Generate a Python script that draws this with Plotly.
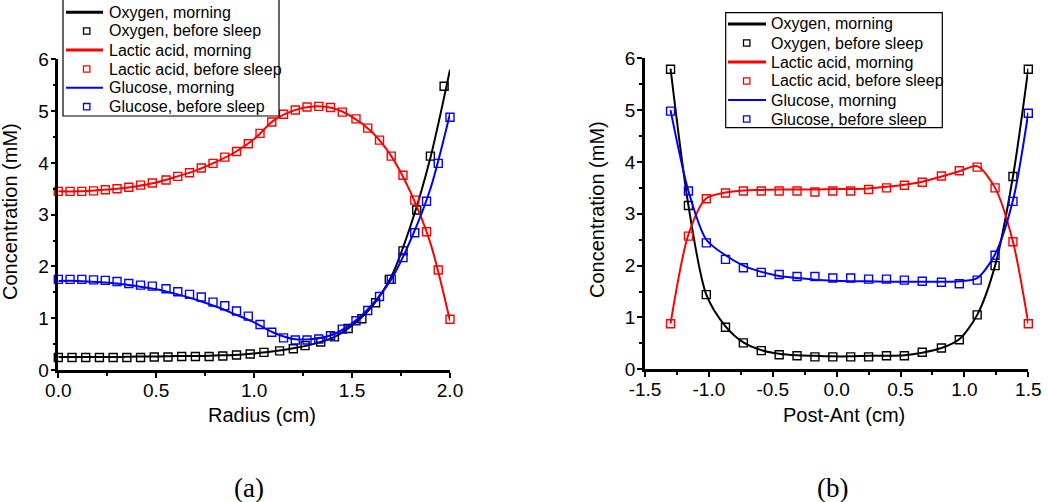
import plotly.graph_objects as go

# ---------- Panel (a): Radius ----------
# before-sleep markers (lactic acid & glucose share x)
a_x_lg = [0.0, 0.06, 0.12, 0.18, 0.24, 0.30, 0.36, 0.42, 0.48, 0.55, 0.61, 0.67, 0.73, 0.79,
          0.85, 0.91, 0.97, 1.03, 1.09, 1.15, 1.21, 1.27, 1.33, 1.39, 1.45, 1.52, 1.58, 1.64,
          1.70, 1.76, 1.82, 1.88, 1.94, 2.0]
a_lactic_bs = [3.45, 3.45, 3.45, 3.46, 3.48, 3.50, 3.53, 3.57, 3.61, 3.67, 3.74, 3.81, 3.90, 3.99,
               4.11, 4.22, 4.37, 4.57, 4.79, 4.94, 5.02, 5.08, 5.09, 5.07, 4.98, 4.85, 4.67, 4.44,
               4.13, 3.76, 3.28, 2.67, 1.93, 0.98]
a_glucose_bs = [1.75, 1.75, 1.75, 1.74, 1.73, 1.71, 1.67, 1.64, 1.62, 1.57, 1.51, 1.46, 1.41, 1.31,
                1.24, 1.14, 1.04, 0.88, 0.73, 0.62, 0.58, 0.58, 0.60, 0.66, 0.79, 0.95, 1.15, 1.42,
                1.75, 2.17, 2.65, 3.26, 3.99, 4.88]
a_x_ox = [0.0, 0.07, 0.14, 0.21, 0.28, 0.35, 0.42, 0.49, 0.56, 0.63, 0.70, 0.77, 0.84, 0.91,
          0.98, 1.05, 1.13, 1.20, 1.26, 1.34, 1.41, 1.48, 1.55, 1.62, 1.69, 1.76, 1.83, 1.90, 1.97]
a_oxygen_bs = [0.24, 0.24, 0.24, 0.24, 0.24, 0.24, 0.24, 0.25, 0.25, 0.26, 0.26, 0.26, 0.27, 0.29,
               0.31, 0.34, 0.37, 0.41, 0.47, 0.54, 0.64, 0.80, 0.99, 1.30, 1.75, 2.30, 3.09, 4.13, 5.48]
# morning curves
a_x_line = [0.0, 0.1, 0.2, 0.3, 0.4, 0.5, 0.6, 0.7, 0.8, 0.9, 1.0, 1.1, 1.2, 1.3, 1.4, 1.5,
            1.6, 1.7, 1.8, 1.9, 2.0]
a_oxygen_m = [0.25, 0.25, 0.25, 0.25, 0.26, 0.26, 0.27, 0.27, 0.28, 0.29, 0.32, 0.36, 0.42, 0.50,
              0.62, 0.86, 1.22, 1.80, 2.80, 4.10, 5.80]
a_lactic_m = [3.45, 3.45, 3.47, 3.50, 3.55, 3.62, 3.73, 3.85, 4.01, 4.20, 4.46, 4.82, 5.01, 5.09,
              5.06, 4.89, 4.60, 4.13, 3.42, 2.45, 0.95]
a_glucose_m = [1.72, 1.72, 1.70, 1.67, 1.62, 1.56, 1.47, 1.36, 1.23, 1.08, 0.92, 0.72, 0.60, 0.60,
               0.68, 0.90, 1.25, 1.75, 2.52, 3.50, 4.95]
a_xticks = [0.0, 0.5, 1.0, 1.5, 2.0]
a_xticktext = ["0.0", "0.5", "1.0", "1.5", "2.0"]

# ---------- Panel (b): Post-Ant ----------
b_x = [-1.3, -1.16, -1.02, -0.87, -0.73, -0.59, -0.45, -0.31, -0.17, -0.03, 0.11, 0.25, 0.39,
       0.53, 0.67, 0.82, 0.96, 1.10, 1.24, 1.38, 1.5]
b_oxygen_bs = [5.79, 3.16, 1.44, 0.81, 0.51, 0.36, 0.28, 0.26, 0.24, 0.24, 0.24, 0.24, 0.26,
               0.26, 0.33, 0.41, 0.57, 1.05, 2.00, 3.72, 5.79]
b_lactic_bs = [0.88, 2.57, 3.29, 3.40, 3.44, 3.44, 3.44, 3.44, 3.42, 3.44, 3.44, 3.47, 3.50,
               3.55, 3.61, 3.73, 3.83, 3.90, 3.50, 2.46, 0.88]
b_glucose_bs = [4.98, 3.44, 2.44, 2.12, 1.96, 1.87, 1.83, 1.79, 1.79, 1.76, 1.76, 1.74, 1.74,
                1.72, 1.70, 1.68, 1.65, 1.72, 2.20, 3.24, 4.94]
b_oxygen_m = [5.80, 3.16, 1.44, 0.83, 0.52, 0.37, 0.30, 0.27, 0.26, 0.25, 0.25, 0.26, 0.26,
              0.27, 0.32, 0.41, 0.58, 1.05, 2.00, 3.72, 5.80]
b_lactic_m = [0.88, 2.60, 3.30, 3.41, 3.45, 3.46, 3.47, 3.47, 3.47, 3.48, 3.48, 3.49, 3.52,
              3.56, 3.62, 3.72, 3.82, 3.92, 3.50, 2.46, 0.88]
b_glucose_m = [5.00, 3.44, 2.50, 2.20, 2.00, 1.88, 1.80, 1.76, 1.73, 1.71, 1.70, 1.70, 1.69,
               1.69, 1.69, 1.69, 1.70, 1.76, 2.22, 3.26, 4.95]
b_xticks = [-1.5, -1.0, -0.5, 0.0, 0.5, 1.0, 1.5]
b_xticktext = ["-1.5", "-1.0", "-0.5", "0.0", "0.5", "1.0", "1.5"]

y_ticks = [0, 1, 2, 3, 4, 5, 6]

names = ["Oxygen, morning", "Oxygen, before sleep", "Lactic acid, morning",
         "Lactic acid, before sleep", "Glucose, morning", "Glucose, before sleep"]
colors = ["#000000", "#ff0000", "#0000ff"]

W, H = 1050, 502
FONT = "Arial, Liberation Sans, sans-serif"

fig = go.Figure()


def add_panel(xl, lines, xms, markers, xa, ya):
    for i in range(3):
        fig.add_trace(go.Scatter(
            x=xl, y=lines[i], mode="lines", name=names[2 * i],
            line=dict(color=colors[i], width=2, shape="spline", smoothing=0.8),
            xaxis=xa, yaxis=ya, cliponaxis=False))
        fig.add_trace(go.Scatter(
            x=xms[i], y=markers[i], mode="markers", name=names[2 * i + 1],
            marker=dict(symbol="square-open", size=8, color=colors[i], line=dict(width=1.4)),
            xaxis=xa, yaxis=ya, cliponaxis=False))


add_panel(a_x_line, [a_oxygen_m, a_lactic_m, a_glucose_m],
          [a_x_ox, a_x_lg, a_x_lg], [a_oxygen_bs, a_lactic_bs, a_glucose_bs], "x", "y")
add_panel(b_x, [b_oxygen_m, b_lactic_m, b_glucose_m],
          [b_x, b_x, b_x], [b_oxygen_bs, b_lactic_bs, b_glucose_bs], "x2", "y2")


def px_x(p):
    return p / W


def px_y(p):
    return 1 - p / H


axis_common = dict(
    showline=True, linecolor="black", linewidth=2.5, mirror=False, automargin=False,
    showgrid=False, zeroline=False, ticks="outside", ticklen=5, tickwidth=2,
    tickcolor="black", tickfont=dict(family=FONT, size=19, color="black"),
)
minor_x = dict(dtick=0.25, ticks="outside", ticklen=3, tickwidth=1.5, tickcolor="black")
minor_y = dict(dtick=0.5, ticks="outside", ticklen=3, tickwidth=1.5, tickcolor="black")

fig.update_layout(
    width=W, height=H,
    margin=dict(l=0, r=0, t=0, b=0),
    paper_bgcolor="white", plot_bgcolor="white",
    showlegend=False,
    xaxis=dict(domain=[px_x(58.3), px_x(450)], range=[0, 2.0], tickmode="array",
               tickvals=a_xticks, ticktext=a_xticktext, anchor="y", minor=minor_x,
               ticklabelstandoff=-4, **axis_common),
    yaxis=dict(domain=[px_y(370), px_y(59.3)], range=[0, 6], tickmode="array",
               tickvals=y_ticks, anchor="x", minor=minor_y, ticklabelstandoff=-2, **axis_common),
    xaxis2=dict(domain=[px_x(645), px_x(1028.3)], range=[-1.5, 1.5], tickmode="array",
                tickvals=b_xticks, ticktext=b_xticktext, anchor="y2", minor=minor_x,
                ticklabelstandoff=-4, **axis_common),
    yaxis2=dict(domain=[px_y(369.3), px_y(58.3)], range=[0, 6], tickmode="array",
                tickvals=y_ticks, anchor="x2", minor=minor_y, ticklabelstandoff=-2, **axis_common),
)

# ---------- hand-drawn legends (paper pixel layout) ----------
leg_font = dict(family=FONT, size=16, color="black")
line_widths = [3, 3, 2]


def draw_legend(box, rows, line_x0, line_x1, mark_x, text_x):
    x0, y0, x1, y1 = box
    fig.add_shape(type="rect", xref="paper", yref="paper",
                  x0=px_x(x0), x1=px_x(x1), y0=px_y(y1), y1=px_y(y0),
                  line=dict(color="black", width=1.2), fillcolor="white", layer="above")
    for k, nm in enumerate(names):
        yc = rows[k]
        c = colors[k // 2]
        if k % 2 == 0:
            fig.add_shape(type="line", xref="paper", yref="paper",
                          x0=px_x(line_x0), x1=px_x(line_x1), y0=px_y(yc), y1=px_y(yc),
                          line=dict(color=c, width=line_widths[k // 2]), layer="above")
        else:
            s = 3.2
            fig.add_shape(type="rect", xref="paper", yref="paper",
                          x0=px_x(mark_x - s), x1=px_x(mark_x + s),
                          y0=px_y(yc + s), y1=px_y(yc - s),
                          line=dict(color=c, width=1.3), layer="above")
        fig.add_annotation(xref="paper", yref="paper", x=px_x(text_x), y=px_y(yc),
                           text=nm, showarrow=False, xanchor="left", yanchor="middle",
                           font=leg_font)


draw_legend((63, -1, 279, 116), [12.3, 31, 50, 69, 87.7, 106.7], 66, 103, 86.7, 106.5)
draw_legend((725.7, 12.7, 942.3, 127.7), [24, 43, 62, 81, 100, 119], 728, 766, 746.7, 768.5)

# ---------- axis titles & panel labels ----------
ann_font = dict(family=FONT, size=20, color="black")
serif = dict(family="Times New Roman, Liberation Serif, serif", size=27, color="black")
annotations = [
    dict(text="Radius (cm)", x=px_x(262), y=px_y(415), font=ann_font),
    dict(text="Post-Ant (cm)", x=px_x(844), y=px_y(415), font=ann_font),
    dict(text="Concentration (mM)", x=px_x(10), y=px_y(212), font=ann_font, textangle=-90),
    dict(text="Concentration (mM)", x=px_x(597), y=px_y(210), font=ann_font, textangle=-90),
    dict(text="(a)", x=px_x(249), y=px_y(488), font=serif),
    dict(text="(b)", x=px_x(832), y=px_y(488), font=serif),
]
for a in annotations:
    fig.add_annotation(xref="paper", yref="paper", showarrow=False,
                       xanchor="center", yanchor="middle", **a)

fig.write_html("out.html",
               config={"displayModeBar": False},
               post_script="document.body.style.margin='0';"
                           "document.body.style.overflow='hidden';")
